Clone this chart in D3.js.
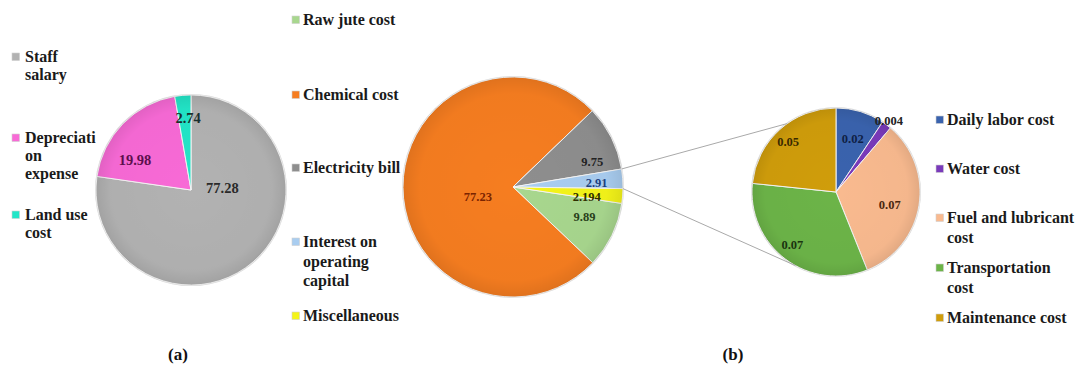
<!DOCTYPE html>
<html>
<head>
<meta charset="utf-8">
<script src="https://cdn.jsdelivr.net/npm/d3@7/dist/d3.min.js"></script>
<style>
  html, body { margin: 0; padding: 0; background: #ffffff; }
  svg { display: block; }
</style>
</head>
<body>
<svg id="chart" width="1077" height="367"></svg>
<script>
// ---------------- DATA ----------------
const pieACategories = ["Staff salary", "Depreciation expense", "Land use cost"];
const pieALegend = [["Staff", "salary"], ["Depreciati", "on", "expense"], ["Land use", "cost"]];
const pieAValues = [77.28, 19.98, 2.74];
const pieALabels = ["77.28", "19.98", "2.74"];

const pieBCategories = ["Raw jute cost", "Chemical cost", "Electricity bill", "Interest on operating capital", "Miscellaneous"];
const pieBLegend = [["Raw jute cost"], ["Chemical cost"], ["Electricity bill"], ["Interest on", "operating", "capital"], ["Miscellaneous"]];
const pieBValues = [9.89, 77.23, 9.75, 2.91, 2.194];
const pieBLabels = ["9.89", "77.23", "9.75", "2.91", "2.194"];

const pieCCategories = ["Daily labor cost", "Water cost", "Fuel and lubricant cost", "Transportation cost", "Maintenance cost"];
const pieCLegend = [["Daily labor cost"], ["Water cost"], ["Fuel and lubricant", "cost"], ["Transportation", "cost"], ["Maintenance cost"]];
const pieCValues = [0.02, 0.004, 0.07, 0.07, 0.05];
const pieCLabels = ["0.02", "0.004", "0.07", "0.07", "0.05"];

const captions = ["(a)", "(b)"];

// ---------------- STYLE / LAYOUT ----------------
const FONT = "'Liberation Serif', Tinos, 'Times New Roman', Times, 'DejaVu Serif', serif";
const colorsA = ["#b2b2b2", "#f86ad6", "#22e6c8"];
const labelColorsA = ["#2a2a2a", "#5c0f4e", "#1b2f2f"];
const colorsB = ["#a8d78e", "#f67d20", "#8e8e8e", "#a9cdf0", "#f4f419"];
const labelColorsB = ["#283f1a", "#7a2400", "#222222", "#1d3f80", "#2e2e00"];
const colorsC = ["#3a63ae", "#7a3abb", "#f9ba8f", "#6cb448", "#d09d0b"];
const labelColorsC = ["#0f1f45", "#222222", "#4a2810", "#1a3510", "#3a2a00"];

const deg = Math.PI / 180;
const svg = d3.select("#chart")
  .attr("font-family", FONT)
  .attr("font-weight", "bold");

const defs = svg.append("defs");
const shade = defs.append("radialGradient").attr("id", "shade");
shade.append("stop").attr("offset", "0%").attr("stop-color", "#000").attr("stop-opacity", 0);
shade.append("stop").attr("offset", "85%").attr("stop-color", "#000").attr("stop-opacity", 0.02);
shade.append("stop").attr("offset", "100%").attr("stop-color", "#000").attr("stop-opacity", 0.09);

function drawPie(cfg) {
  const pie = d3.pie().sort(null).value(d => d)
    .startAngle(cfg.start).endAngle(cfg.start + 2 * Math.PI);
  const arcs = pie(cfg.values);
  const arc = d3.arc().innerRadius(0).outerRadius(cfg.r);
  const g = svg.append("g").attr("transform", `translate(${cfg.cx},${cfg.cy})`);
  g.append("circle").attr("r", cfg.r + 1).attr("fill", "#d8d8d8");
  g.selectAll("path.slice").data(arcs).join("path")
    .attr("class", "slice")
    .attr("d", arc)
    .attr("fill", (d, i) => cfg.colors[i])
    .attr("stroke", "#f4f4f4")
    .attr("stroke-width", 1);
  g.append("circle").attr("r", cfg.r).attr("fill", "url(#shade)");
  g.selectAll("text.val").data(arcs).join("text")
    .attr("class", "val")
    .attr("font-family", FONT)
    .attr("font-weight", "bold")
    .attr("x", (d, i) => cfg.labelPos[i][0] * cfg.r)
    .attr("y", (d, i) => cfg.labelPos[i][1] * cfg.r)
    .attr("dy", "0.35em")
    .attr("text-anchor", "middle")
    .attr("font-size", cfg.labelSize)
    .attr("fill", (d, i) => cfg.labelColors[i])
    .text((d, i) => cfg.labels[i]);
  return { arcs, cx: cfg.cx, cy: cfg.cy, r: cfg.r };
}

function drawLegend(cfg) {
  const g = svg.append("g");
  cfg.items.forEach((lines, i) => {
    const y0 = cfg.ys[i];
    g.append("rect")
      .attr("x", cfg.sx).attr("y", y0 - 4).attr("width", 7.5).attr("height", 7.5)
      .attr("fill", cfg.colors[i]).attr("stroke", "#cfcfcf").attr("stroke-width", 0.6);
    const t = g.append("text")
      .attr("font-family", FONT)
      .attr("font-weight", "bold")
      .attr("x", cfg.tx).attr("y", y0 + 5)
      .attr("font-size", cfg.size)
      .attr("fill", "#1a1a1a");
    lines.forEach((ln, j) => {
      t.append("tspan").attr("x", cfg.tx).attr("dy", j === 0 ? 0 : cfg.lineH).text(ln);
    });
  });
}

// (a)
drawPie({
  cx: 191, cy: 190, r: 95, start: 0,
  values: pieAValues, colors: colorsA, labels: pieALabels, labelColors: labelColorsA,
  labelSize: 14.5,
  labelPos: [[0.33, -0.02], [-0.59, -0.32], [-0.03, -0.76]]
});
drawLegend({
  items: pieALegend, colors: colorsA, sx: 12, tx: 25, size: 16, lineH: 18,
  ys: [57, 138, 215]
});

// (b)
const pb = drawPie({
  cx: 513, cy: 187, r: 110, start: 98.6 * deg,
  values: pieBValues, colors: colorsB, labels: pieBLabels, labelColors: labelColorsB,
  labelSize: 12.5,
  labelPos: [[0.65, 0.27], [-0.32, 0.09], [0.72, -0.23], [0.76, -0.04], [0.67, 0.09]]
});
drawLegend({
  items: pieBLegend, colors: colorsB, sx: 292, tx: 303, size: 16, lineH: 19.5,
  ys: [20, 95, 168, 242, 316]
});

// secondary pie
const pc = drawPie({
  cx: 836, cy: 192, r: 84, start: 0,
  values: pieCValues, colors: colorsC, labels: pieCLabels, labelColors: labelColorsC,
  labelSize: 12.5,
  labelPos: [[0.2, -0.64], [0.63, -0.85], [0.64, 0.15], [-0.52, 0.63], [-0.57, -0.6]]
});
drawLegend({
  items: pieCLegend, colors: colorsC, sx: 936, tx: 947, size: 16, lineH: 20,
  ys: [120, 169, 218, 268, 318]
});

// connector lines from "Interest on operating capital" slice to the secondary pie
const src = pb.arcs[3];
const pt = (p, a, rr) => [p.cx + rr * Math.sin(a), p.cy - rr * Math.cos(a)];
const conn = [
  [pt(pb, src.startAngle, pb.r), pt(pc, 324.6 * deg, pc.r)],
  [pt(pb, src.endAngle, pb.r), pt(pc, 208.8 * deg, pc.r)]
];
svg.append("g").selectAll("line").data(conn).join("line")
  .attr("x1", d => d[0][0]).attr("y1", d => d[0][1])
  .attr("x2", d => d[1][0]).attr("y2", d => d[1][1])
  .attr("stroke", "#a9a9a9").attr("stroke-width", 1);

// captions
svg.selectAll("text.cap").data(captions).join("text")
  .attr("class", "cap")
  .attr("font-family", FONT)
  .attr("font-weight", "bold")
  .attr("x", (d, i) => [178, 733][i])
  .attr("y", 360)
  .attr("text-anchor", "middle")
  .attr("font-size", 17)
  .attr("fill", "#111")
  .text(d => d);
</script>
</body>
</html>
